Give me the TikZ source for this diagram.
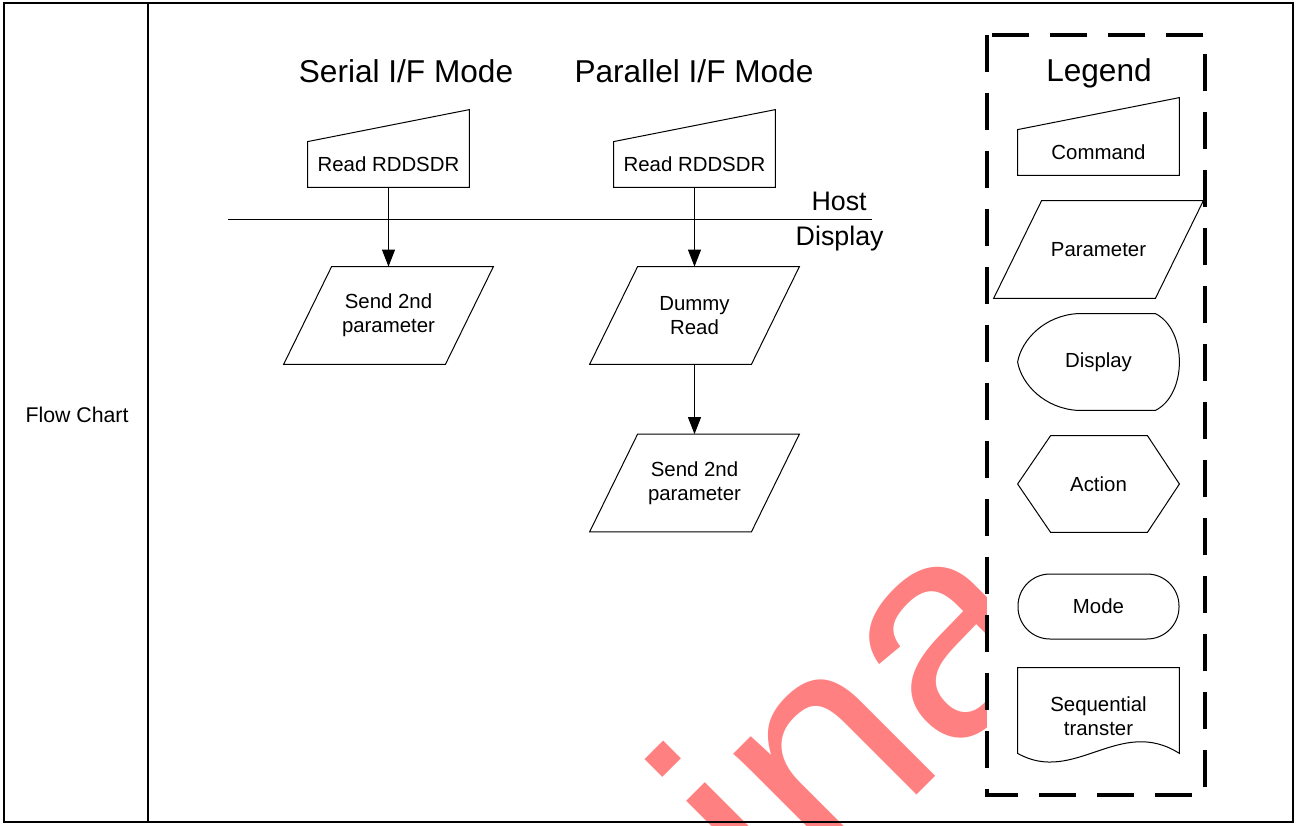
\documentclass[tikz,border=0pt]{standalone}
\usepackage{fontspec}
\setmainfont{Liberation Sans}
\usetikzlibrary{arrows.meta, positioning, calc}

\definecolor{stamp}{RGB}{255,128,128}

\begin{document}
\begin{tikzpicture}[x=0.5pt, y=-0.5pt,
    txt/.style={font=\fontsize{10.2}{12}\selectfont, align=center, inner sep=0pt},
    title/.style={font=\fontsize{15.8}{18}\selectfont, inner sep=0pt},
    side/.style={font=\fontsize{13.4}{16}\selectfont, inner sep=0pt},
    command/.style={txt, minimum width=80.5pt, minimum height=22.5pt},
    param/.style={txt, minimum width=104.5pt, minimum height=48.5pt},
    symbol/.style={txt, minimum width=80.5pt, minimum height=48pt},
    outline/.style={draw, line width=0.5pt},
    arrow/.style={line width=0.5pt, -{Triangle[length=8.5pt, width=6.5pt]}},
    legendbox/.style={draw, fill=white, line width=2pt, dash pattern=on 18.5pt off 10.5pt}
]
\useasboundingbox (0,0) rectangle (1296,825);

% watermark
\node[anchor=base west, rotate=45, inner sep=0pt, text=stamp,
      font=\fontsize{150}{150}\selectfont] (wmark) at (784,928) {ina};

% table frame
\draw[line width=1.2pt] (4,3) rectangle (1293,822);
\draw[line width=1pt] (148,3) -- (148,822);
\node[txt, font=\fontsize{10.65}{12}\selectfont] (rowlabel) at (77,415) {Flow Chart};

% serial mode
\node[title] (serialtitle) at (406,71) {Serial I/F Mode};
\node[command] (serialcmd)  at (388.5,164.5) {Read RDDSDR};
\node[param]   (serialsend) at (388.5,315.5) {Send 2nd\\parameter};

% parallel mode
\node[title] (paralleltitle) at (694,71) {Parallel I/F Mode};
\node[command] (parallelcmd)  at (694.5,164.5) {Read RDDSDR};
\node[param]   (dummy)        at (694.5,315.5) {Dummy\\Read};
\node[param]   (parallelsend) at (694.5,483)   {Send 2nd\\parameter};

% host / display border
\coordinate (hostL) at (228,219);
\coordinate (hostR) at (872,219);
\draw[outline] (hostL) -- (hostR);
\node[side, anchor=south east] (host) at (867,211) {Host};
\node[side, anchor=north east] (disp) at (884,226) {Display};

% legend
\draw[legendbox] (987,35) rectangle (1205,795);
\node[title] (legtitle) at (1099,73) {Legend};
\node[command] (legcmd)   at (1098.5,152.5) {Command};
\node[param]   (legparam) at (1098.5,249.5) {Parameter};
\node[symbol]  (legdisp)  at (1098.5,362)   {Display};
\node[symbol]  (legact)   at (1098.5,484)   {Action};
\node[txt, draw, line width=0.5pt, rounded corners=16pt, minimum width=80.5pt,
      minimum height=32.5pt] (legmode) at (1098.5,606.5) {Mode};
\node[symbol]  (legseq)   at (1098.5,716)   {Sequential\\transter};

% outlines
\foreach \n in {serialcmd, parallelcmd, legcmd}
  \draw[outline] (\n.south west) -- (\n.south east)
    -- ([yshift=16pt]\n.north east) -- (\n.north west) -- cycle;
\foreach \n in {serialsend, dummy, parallelsend, legparam}
  \draw[outline] (\n.south west) -- ([xshift=-24pt]\n.south east)
    -- (\n.north east) -- ([xshift=24pt]\n.north west) -- cycle;
\draw[outline] ([xshift=30pt]legdisp.north west) -- ([xshift=-12pt]legdisp.north east)
  .. controls ([xshift=4pt, yshift=-8pt]legdisp.north east)
  and ([xshift=4pt, yshift=8pt]legdisp.south east) .. ([xshift=-12pt]legdisp.south east)
  -- ([xshift=30pt]legdisp.south west)
  .. controls ([xshift=13.5pt, yshift=1pt]legdisp.south west)
  and ([xshift=2pt, yshift=13pt]legdisp.south west) .. (legdisp.west)
  .. controls ([xshift=2pt, yshift=-13pt]legdisp.north west)
  and ([xshift=13.5pt, yshift=-1pt]legdisp.north west) .. ([xshift=30pt]legdisp.north west)
  -- cycle;
\draw[outline] (legact.west) -- ([xshift=16.5pt]legact.north west)
  -- ([xshift=-16pt]legact.north east) -- (legact.east)
  -- ([xshift=-16pt]legact.south east) -- ([xshift=16.5pt]legact.south west) -- cycle;
\draw[outline] ([yshift=5.5pt]legseq.south west) -- (legseq.north west)
  -- (legseq.north east) -- ([yshift=5.5pt]legseq.south east)
  .. controls ([xshift=51pt, yshift=24.5pt]legseq.south west)
  and ([xshift=28.5pt, yshift=-10.5pt]legseq.south west) .. ([yshift=5.5pt]legseq.south west)
  -- cycle;

% arrows
\draw[arrow] (serialcmd) -- (serialsend);
\draw[arrow] (parallelcmd) -- (dummy);
\draw[arrow] (dummy) -- (parallelsend);
\end{tikzpicture}
\end{document}
